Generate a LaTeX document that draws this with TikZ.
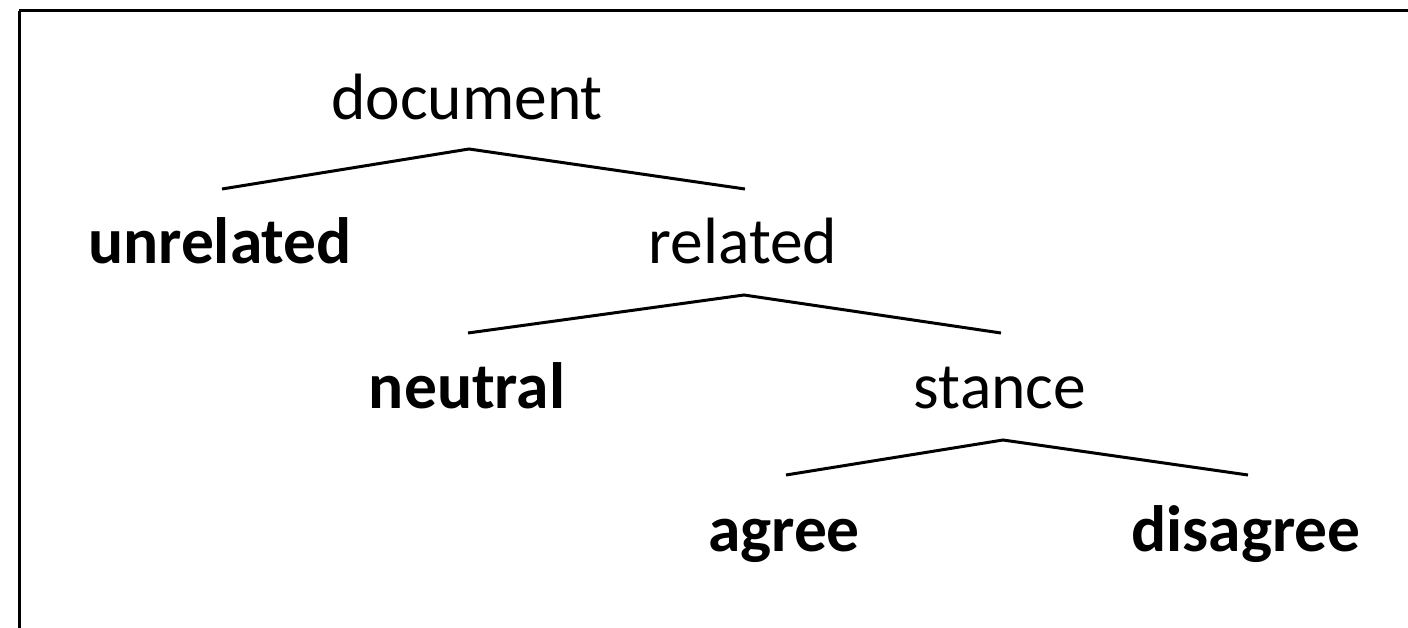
\documentclass[tikz,border=0pt]{standalone}
\usepackage{fontspec}
\setmainfont{Carlito}
\usetikzlibrary{calc}
\begin{document}
\begin{tikzpicture}[x=1pt,y=-1pt,
  lbl/.style={anchor=base,inner sep=0pt,font=\fontsize{65.5}{78}\selectfont},
  leaf/.style={lbl,font=\fontsize{65.5}{78}\selectfont\bfseries},
  edge/.style={line width=3pt,line join=miter}]
\useasboundingbox (0,0) rectangle (1408,628);
\begin{scope}
\clip (0,0) rectangle (1408,628);
\draw[line width=3pt] (19,11) -- (1520,11);
\draw[line width=3pt] (19,11) -- (19,700);
\end{scope}
\node[lbl]  (doc)     at (467,120) {document};
\node[leaf] (unrel)   at (220,264) {unrelated};
\node[lbl]  (rel)     at (743,264) {related};
\node[leaf] (neutral) at (467,408) {neutral};
\node[lbl]  (stance)  at (1000,408) {stance};
\node[leaf] (agree)   at (784,551) {agree};
\node[leaf] (disagree) at (1246,551) {disagree};
\coordinate (docA) at ($(doc.base)+(2,29)$);
\coordinate (unrelT) at ($(unrel.base)+(2,-75)$);
\coordinate (relT) at ($(rel.base)+(2,-75)$);
\coordinate (relA) at ($(rel.base)+(1,31)$);
\coordinate (neutT) at ($(neutral.base)+(1,-75)$);
\coordinate (stT) at ($(stance.base)+(1,-75)$);
\coordinate (stA) at ($(stance.base)+(3,32)$);
\coordinate (agT) at ($(agree.base)+(2,-76)$);
\coordinate (disT) at ($(disagree.base)+(2,-76)$);
\draw[edge] (unrelT) -- (docA) -- (relT);
\draw[edge] (neutT) -- (relA) -- (stT);
\draw[edge] (agT) -- (stA) -- (disT);
\end{tikzpicture}
\end{document}
